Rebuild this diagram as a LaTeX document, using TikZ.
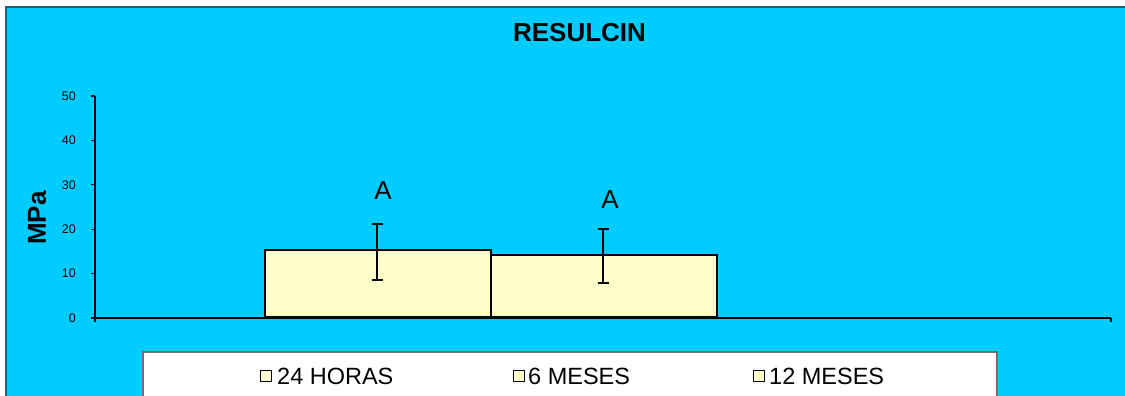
\documentclass[tikz,border=0pt]{standalone}
\usepackage{fontspec}
\setmainfont{Liberation Sans}
\definecolor{chartblue}{HTML}{00CCFF}
\definecolor{barfill}{HTML}{FFFFCC}
\definecolor{frameline}{HTML}{1F5F70}
\definecolor{legendline}{HTML}{707070}
\tikzset{
  axisline/.style={draw=black, line width=1.2pt},
  barbox/.style={draw=black, line width=2pt, fill=barfill},
  errbar/.style={draw=black, line width=2pt},
  ticklabel/.style={anchor=east, inner sep=0pt, font=\fontsize{12.5}{12.5}\selectfont},
  siglabel/.style={inner sep=0pt, font=\fontsize{26}{26}\selectfont},
  legtext/.style={anchor=base west, inner sep=0pt, font=\fontsize{23.5}{23.5}\selectfont},
  legkey/.style={draw=black, line width=1.6pt, fill=barfill, minimum width=11pt, minimum height=11pt, inner sep=0pt, anchor=center},
}
\begin{document}
\begin{tikzpicture}[x=1pt,y=-1pt]
\useasboundingbox (0,0) rectangle (1125,396);
\fill[white] (0,0) rectangle (1125,396);
% chart area
\path[fill=chartblue, draw=frameline, line width=1.2pt] (6,7) rectangle (1130,400);
% title
\node[inner sep=0pt, font=\bfseries\fontsize{26}{26}\selectfont] (title) at (579.5,33) {RESULCIN};
% y label
\node[inner sep=0pt, rotate=90, font=\bfseries\fontsize{26}{26}\selectfont] (ylab) at (37,218) {MPa};
% axes
\coordinate (o) at (95,318);
\coordinate (ytop) at (95,96);
\coordinate (xend) at (1111,318);
\draw[axisline] (ytop) -- (o) -- (xend);
\draw[axisline] (o) -- ++(0,4);
\draw[axisline] (xend) -- ++(0,4);
\foreach \v in {0,10,20,30,40,50}{
  \coordinate (t\v) at (95,{318-4.44*\v});
  \draw[axisline] (t\v) -- ++(-4,0);
  \node[ticklabel] (tl\v) at (76,{318-4.44*\v}) {\v};
}
% bars
\node[barbox, minimum width=226pt, minimum height=67pt, inner sep=0pt, anchor=south west] (bar1) at (264,318) {};
\node[barbox, minimum width=226pt, minimum height=62pt, inner sep=0pt, anchor=south west] (bar2) at (490,318) {};
% error bars
\coordinate (e1t) at (377,224); \coordinate (e1b) at (377,280);
\coordinate (e2t) at (603,229); \coordinate (e2b) at (603,283);
\draw[errbar] (e1t) -- (e1b);
\draw[errbar] ([xshift=-5.5pt]e1t) -- ([xshift=5.5pt]e1t);
\draw[errbar] ([xshift=-5.5pt]e1b) -- ([xshift=5.5pt]e1b);
\draw[errbar] (e2t) -- (e2b);
\draw[errbar] ([xshift=-5.5pt]e2t) -- ([xshift=5.5pt]e2t);
\draw[errbar] ([xshift=-5.5pt]e2b) -- ([xshift=5.5pt]e2b);
% significance letters
\node[siglabel] (a1) at (383,190.5) {A};
\node[siglabel] (a2) at (610,199.5) {A};
% legend
\path[fill=white, draw=legendline, line width=1.2pt] (143,352) rectangle (997,402);
\node[legkey] (k1) at (266,376) {};
\node[legtext] (l1) at (277,384) {24 HORAS};
\node[legkey] (k2) at (519,376) {};
\node[legtext] (l2) at (528,384) {6 MESES};
\node[legkey] (k3) at (759,376) {};
\node[legtext] (l3) at (769,384) {12 MESES};
\end{tikzpicture}
\end{document}
